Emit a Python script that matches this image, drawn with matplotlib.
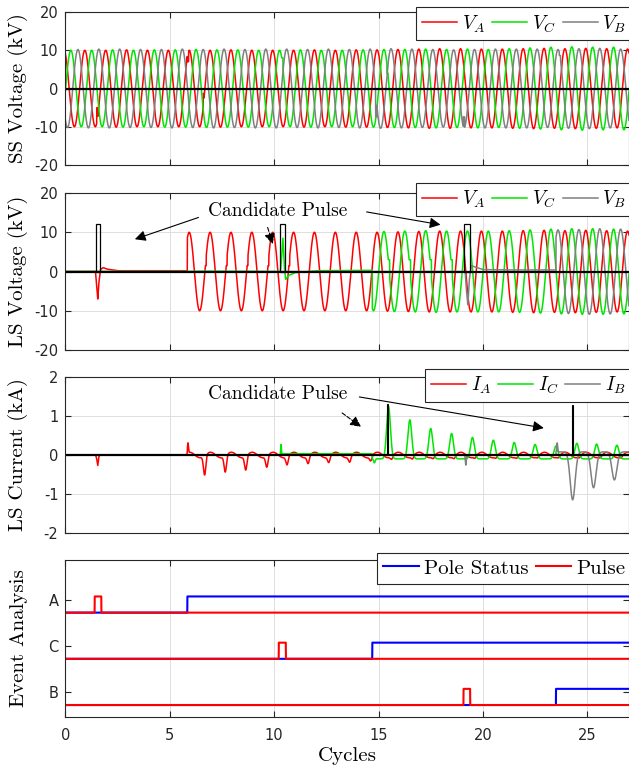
import numpy as np
import matplotlib.pyplot as plt
from matplotlib.patches import Rectangle

plt.rcParams['mathtext.fontset'] = 'cm'
plt.rcParams['axes.unicode_minus'] = False
plt.rcParams['font.family'] = 'DejaVu Sans'
SERIF = 'cmr10'

# sample axis in cycles
t = np.linspace(0, 27, 10801)

# ---------------- data ----------------
# where in each cycle the phase voltage peaks
peak_phase = {'A': 0.93, 'C': 0.26, 'B': 0.60}

# SS voltage peak per cycle (kV), cycles 0..27
ss_amp_A = [10.0, 10.0, 10.1, 10.0, 10.0, 10.0, 10.0, 10.1, 10.0, 10.0, 10.0, 10.1, 10.0, 10.1,
            10.1, 10.2, 10.3, 10.4, 10.4, 10.3, 10.3, 10.4, 10.5, 10.4, 10.5, 10.4, 10.3, 10.3]
ss_amp_C = [10.0, 10.0, 10.1, 10.0, 10.1, 10.1, 10.2, 10.1, 10.1, 10.0, 10.0, 10.1, 10.0, 10.0,
            10.1, 10.2, 10.2, 10.3, 10.2, 10.3, 10.2, 10.4, 10.6, 10.8, 10.9, 10.8, 10.8, 10.7]
ss_amp_B = [10.2, 10.3, 10.3, 10.2, 10.2, 10.3, 10.2, 10.3, 10.2, 10.3, 10.3, 10.2, 10.3, 10.2,
            10.3, 10.4, 10.3, 10.2, 10.1, 10.2, 10.3, 10.3, 10.3, 10.2, 10.4, 10.5, 10.3, 10.3]
# small glitches on SS voltage: phase, start, end, value (kV)
ss_glitch = [('A', 1.50, 1.55, -5.0), ('A', 5.84, 5.90, 7.0), ('A', 6.60, 6.64, -1.3),
             ('C', 10.36, 10.42, 8.0), ('B', 14.86, 14.92, -7.4), ('C', 15.40, 15.46, 4.0),
             ('B', 19.06, 19.12, -7.4), ('B', 23.66, 23.72, 8.6)]

# pole closing and candidate pulse windows (cycles)
pole_close = {'A': 5.84, 'C': 14.70, 'B': 23.50}
pulse_on = {'A': 1.40, 'C': 10.22, 'B': 19.07}
pulse_off = {'A': 1.72, 'C': 10.56, 'B': 19.39}
# candidate pulse boxes in LS voltage panel (start, end, height kV)
v_box = [(1.46, 1.67, 12.0), (10.26, 10.53, 12.0), (19.10, 19.38, 12.0)]
# candidate pulse boxes in LS current panel (start, end, height kA)
i_box = [(15.40, 15.47, 1.30), (24.28, 24.30, 1.28)]

# LS voltage peak per cycle after pole closing (kV), cycles 0..27
ls_amp_A = [0, 0, 0, 0, 0, 10.0, 10.0, 10.0, 10.0, 10.0, 10.0, 10.0, 10.0, 10.0,
            10.0, 10.1, 10.2, 10.3, 10.3, 10.3, 10.3, 10.4, 10.5, 10.4, 10.5, 10.4, 10.3, 10.3]
ls_amp_C = [0, 0, 0, 0, 0, 0, 0, 0, 0, 0, 0, 0, 0, 0,
            10.0, 10.2, 10.3, 10.4, 10.3, 10.3, 10.3, 10.4, 10.6, 10.8, 10.9, 10.9, 10.8, 10.7]
ls_amp_B = [0, 0, 0, 0, 0, 0, 0, 0, 0, 0, 0, 0, 0, 0,
            0, 0, 0, 0, 0, 0, 0, 0, 0, 10.6, 10.7, 10.9, 10.8, 10.8]
# LS residual voltage before pole closing (cycles, kV)
ls_pre_A_t = [1.44, 1.49, 1.55, 1.60, 1.68, 1.80, 2.00, 2.50, 5.84]
ls_pre_A_v = [0.0, -3.0, -7.0, -3.0, 0.5, 1.0, 0.6, 0.2, 0.2]
ls_pre_C_t = [5.84, 6.5, 10.30, 10.35, 10.42, 10.49, 10.55, 10.70, 11.00, 12.00, 14.70]
ls_pre_C_v = [0.0, 0.1, 0.0, 3.0, 8.5, 1.0, -2.0, -1.0, -0.3, 0.2, 0.3]
ls_pre_B_t = [19.15, 19.20, 19.28, 19.35, 19.45, 19.60, 20.00, 21.00, 23.50]
ls_pre_B_v = [0.0, -4.0, -8.5, -2.0, 1.5, 1.2, 0.5, 0.4, 0.4]
# flat steps on LS voltage edges: cycles, level (kV), width, edge
ls_step_A = ([6, 7, 8, 9, 10], 1.5, 0.04, 'rise')
ls_step_C = ([15, 16, 17, 18], 3.0, 0.07, 'fall')

# LS currents (kA)
ia_pre_t = [1.45, 1.50, 1.55, 1.60, 1.65]
ia_pre_v = [0.0, -0.10, -0.27, -0.05, 0.0]
ia_dip_t = [6.67, 7.66, 8.64, 9.65, 10.62, 11.63, 12.62, 13.62, 14.63, 15.63,
            16.63, 17.63, 18.63, 19.63, 20.63, 21.63, 22.63, 23.63, 24.63, 25.63, 26.63]
ia_dip_v = [-0.50, -0.42, -0.36, -0.29, -0.22, -0.19, -0.16, -0.15, -0.12, -0.08,
            -0.07, -0.06, -0.06, -0.05, -0.05, -0.05, -0.04, -0.04, -0.04, -0.04, -0.04]
ic_peak_t = [15.48, 16.50, 17.50, 18.50, 19.50, 20.50, 21.50, 22.50, 23.50, 24.50, 25.45, 26.42]
ic_peak_v = [1.24, 0.90, 0.68, 0.55, 0.45, 0.38, 0.32, 0.27, 0.23, 0.30, 0.28, 0.25]
ib_dip_t = [24.30, 25.30, 26.30]
ib_dip_v = [-1.15, -0.84, -0.64]

# event analysis rows
row_level = {'A': 3, 'C': 2, 'B': 1}
row_low, row_high = -0.28, 0.07

xticks = [0, 5, 10, 15, 20, 25]

colors = {'A': '#ff0000', 'C': '#00e600', 'B': '#808080'}
order = ['A', 'C', 'B']


def cycle_index():
    return np.clip(t.astype(int), 0, 27)


def sine(ph, amps):
    return np.asarray(amps, float)[cycle_index()] * np.cos(2 * np.pi * (t - peak_phase[ph]))


def ss_voltage(ph, amps):
    v = sine(ph, amps)
    for name, a, b, val in ss_glitch:
        if name == ph:
            v[(t >= a) & (t < b)] = val
    return v


def ls_voltage(ph, amps, pre_t, pre_v, step):
    v = sine(ph, amps)
    cyc, level, width, edge = step
    for c in cyc:
        off = np.arccos(level / amps[c]) / (2 * np.pi)
        tc = c + peak_phase[ph] + (off if edge == 'fall' else -off)
        v[(t >= tc) & (t < tc + width)] = level
    pre = np.interp(t, pre_t, pre_v, left=0.0, right=pre_v[-1])
    return np.where(t >= pole_close[ph], v, pre)


def bumps(centers, heights, width):
    out = np.zeros_like(t)
    for c, h in zip(centers, heights):
        out += h * np.exp(-((t - c) / width) ** 2)
    return out


ss = {'A': ss_voltage('A', ss_amp_A), 'C': ss_voltage('C', ss_amp_C), 'B': ss_voltage('B', ss_amp_B)}
ls = {'A': ls_voltage('A', ls_amp_A, ls_pre_A_t, ls_pre_A_v, ls_step_A),
      'C': ls_voltage('C', ls_amp_C, ls_pre_C_t, ls_pre_C_v, ls_step_C),
      'B': ls_voltage('B', ls_amp_B, ls_pre_B_t, ls_pre_B_v, ([], 0, 0, 'rise'))}

on_A = t >= pole_close['A']
on_C = t >= pole_close['C']
on_B = t >= pole_close['B']
cur = {
    'A': np.interp(t, ia_pre_t, ia_pre_v, left=0, right=0)
         + bumps([5.87], [0.25], 0.03)
         + on_A * (0.07 * np.cos(2 * np.pi * (t - 0.95)) + bumps(ia_dip_t, ia_dip_v, 0.08)),
    'C': bumps([10.33], [0.27], 0.025) + ((t > 10.4) & ~on_C) * 0.03
         + on_C * (-0.1 + bumps(ic_peak_t, np.array(ic_peak_v) + 0.1, 0.13)
                   + bumps([14.8], [-0.1], 0.05)),
    'B': bumps([19.18], [-0.26], 0.03) + bumps([23.56], [0.23], 0.03)
         + on_B * (0.08 + bumps(ib_dip_t, np.array(ib_dip_v) - 0.08, 0.17)),
}

# ---------------- figure ----------------
fig = plt.figure(figsize=(6.29, 7.73), dpi=100)
left, width = 0.1040, 0.8960
boxes = [(0.7865, 0.1980), (0.5472, 0.2031), (0.3105, 0.2018), (0.0724, 0.2032)]
axes = [fig.add_axes([left, b, width, h]) for b, h in boxes]


def style(ax, ygrid=True):
    ax.set_xlim(0, 27)
    ax.set_xticks(xticks)
    ax.tick_params(direction='in', top=True, right=True, labelsize=10.5, colors='#262626',
                   length=4, width=0.8)
    ax.tick_params(axis='y', pad=5)
    ax.tick_params(axis='x', pad=8)
    ax.grid(True, axis='x', color='#dedede', lw=0.7)
    if ygrid:
        ax.grid(True, axis='y', color='#dedede', lw=0.7)
    ax.set_axisbelow(True)
    for s in ax.spines.values():
        s.set_color('#262626')
        s.set_linewidth(0.8)
    ax.yaxis.set_label_coords(-0.066, 0.5)


def legend(ax, y, labels=None, size=14, handlelength=1.8):
    args = [labels] if labels else []
    leg = ax.legend(*args, loc='upper right', bbox_to_anchor=(1.005, y), ncol=3,
                    prop={'family': SERIF, 'size': size}, frameon=True, fancybox=False,
                    edgecolor='#262626', framealpha=1, borderpad=0.3,
                    handlelength=handlelength, handletextpad=0.25, columnspacing=0.35,
                    borderaxespad=0)
    leg.get_frame().set_linewidth(0.8)


# SS voltage
ax = axes[0]
for ph in order:
    ax.plot(t, ss[ph], color=colors[ph], lw=1.1)
ax.axhline(0, color='k', lw=1.6)
ax.set_ylim(-20, 20)
ax.set_yticks([-20, -10, 0, 10, 20])
ax.set_xticklabels([])
ax.set_ylabel('SS Voltage (kV)', family=SERIF, fontsize=15)
style(ax)
legend(ax, 1.03, ['$V_A$', '$V_C$', '$V_B$'])

# LS voltage
ax = axes[1]
for ph in order:
    ax.plot(t, ls[ph], color=colors[ph], lw=1.1)
ax.axhline(0, color='k', lw=1.6)
for a, b, h in v_box:
    ax.add_patch(Rectangle((a, 0), b - a, h, fill=False, ec='k', lw=0.9, zorder=5))
ax.set_ylim(-20, 20)
ax.set_yticks([-20, -10, 0, 10, 20])
ax.set_xticklabels([])
ax.set_ylabel('LS Voltage (kV)', family=SERIF, fontsize=15)
style(ax)
legend(ax, 1.065, ['$V_A$', '$V_C$', '$V_B$'])
ax.text(10.15, 15.4, 'Candidate Pulse', family=SERIF, fontsize=14, ha='center', va='center')
arrow = dict(arrowstyle='-|>', color='k', lw=0.8, mutation_scale=16)
ax.annotate('', xy=(3.2, 8.0), xytext=(6.5, 14.0), arrowprops=arrow)
ax.annotate('', xy=(9.97, 6.3), xytext=(9.65, 11.9), arrowprops=dict(arrow, ls='--'))
ax.annotate('', xy=(18.1, 11.8), xytext=(14.3, 15.3), arrowprops=arrow)

# LS current
ax = axes[2]
for ph in order:
    ax.plot(t, cur[ph], color=colors[ph], lw=1.1)
ax.axhline(0, color='k', lw=1.6)
for a, b, h in i_box:
    ax.add_patch(Rectangle((a, 0), b - a, h, fill=False, ec='k', lw=0.8, zorder=5))
ax.set_ylim(-2, 2)
ax.set_yticks([-2, -1, 0, 1, 2])
ax.set_xticklabels([])
ax.set_ylabel('LS Current (kA)', family=SERIF, fontsize=15)
style(ax)
legend(ax, 1.05, ['$I_A$', '$I_C$', '$I_B$'])
ax.text(10.15, 1.56, 'Candidate Pulse', family=SERIF, fontsize=14, ha='center', va='center')
ax.annotate('', xy=(14.27, 0.68), xytext=(13.15, 1.12), arrowprops=dict(arrow, ls='--'))
ax.annotate('', xy=(23.05, 0.68), xytext=(13.95, 1.5), arrowprops=arrow)

# Event analysis
ax = axes[3]
for ph in order:
    lo = row_level[ph] + row_low
    hi = row_level[ph] + row_high
    status = np.where(t >= pole_close[ph], hi, lo)
    pulse = np.where((t >= pulse_on[ph]) & (t < pulse_off[ph]), hi, lo)
    ax.plot(t, status, color='#0000ff', lw=1.5, label='Pole Status' if ph == 'A' else None)
    ax.plot(t, pulse, color='#ff0000', lw=1.5, label='Pulse' if ph == 'A' else None)
ax.set_ylim(0.46, 3.86)
ax.set_yticks([1, 2, 3])
ax.set_yticklabels(['B', 'C', 'A'])
ax.set_ylabel('Event Analysis', family=SERIF, fontsize=15)
ax.set_xlabel('Cycles', family=SERIF, fontsize=15)
ax.xaxis.set_label_coords(0.5, -0.19)
style(ax, ygrid=False)
legend(ax, 1.045, size=15, handlelength=1.7)

fig.savefig('out.png', dpi=100)
